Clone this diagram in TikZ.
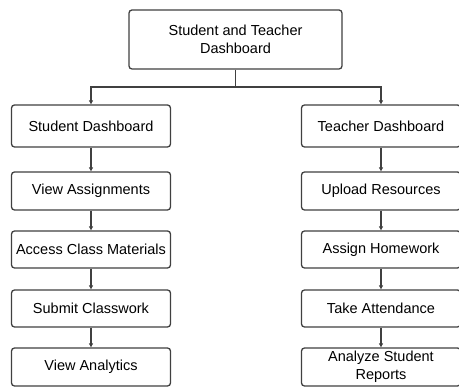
\documentclass[tikz,border=0pt]{standalone}
\usepackage{fontspec}
\setmainfont{Liberation Sans}
\usetikzlibrary{arrows.meta}
\begin{document}
\begin{tikzpicture}[x=1pt,y=-1pt,
  box/.style={draw=black!75,line width=1.3pt,rounded corners=3pt,fill=white,
    align=center,inner sep=0pt,font=\fontsize{14.5}{17.5}\selectfont},
  link/.style={draw=black!75,line width=1.2pt,-{Triangle[length=4pt,width=4pt]}}]
\useasboundingbox (0,0) rectangle (459,387);
% root
\node[box,minimum width=213pt,minimum height=59pt] (root) at (235.5,39.5)
  {Student and Teacher\\Dashboard};
% student column
\begin{scope}[every node/.append style={box,minimum width=159pt}]
\node[minimum height=42pt] (s0) at (91,126) {Student Dashboard};
\node[minimum height=38pt] (s1) at (91,191) {View Assignments};
\node[minimum height=37pt] (s2) at (91,249.5) {Access Class Materials};
\node[minimum height=37pt] (s3) at (91,308.5) {Submit Classwork};
\node[minimum height=38pt] (s4) at (91,367) {View Analytics};
% teacher column
\node[minimum height=42pt] (t0) at (381,126) {Teacher Dashboard};
\node[minimum height=38pt] (t1) at (381,191) {Upload Resources};
\node[minimum height=37pt] (t2) at (381,249.5) {Assign Homework};
\node[minimum height=37pt] (t3) at (381,308.5) {Take Attendance};
\node[minimum height=38pt] (t4) at (381,367) {Analyze Student\\Reports};
\end{scope}
% branches from the root
\coordinate (split) at (235.5,87);
\draw[draw=black!75,line width=1.2pt] (root.south) -- (split);
\draw[link] (split) -| (s0.north);
\draw[link] (split) -| (t0.north);
% chains
\foreach \a/\b in {s0/s1,s1/s2,s2/s3,s3/s4,t0/t1,t1/t2,t2/t3,t3/t4}
  \draw[link] (\a.south) -- (\b.north);
\end{tikzpicture}
\end{document}
